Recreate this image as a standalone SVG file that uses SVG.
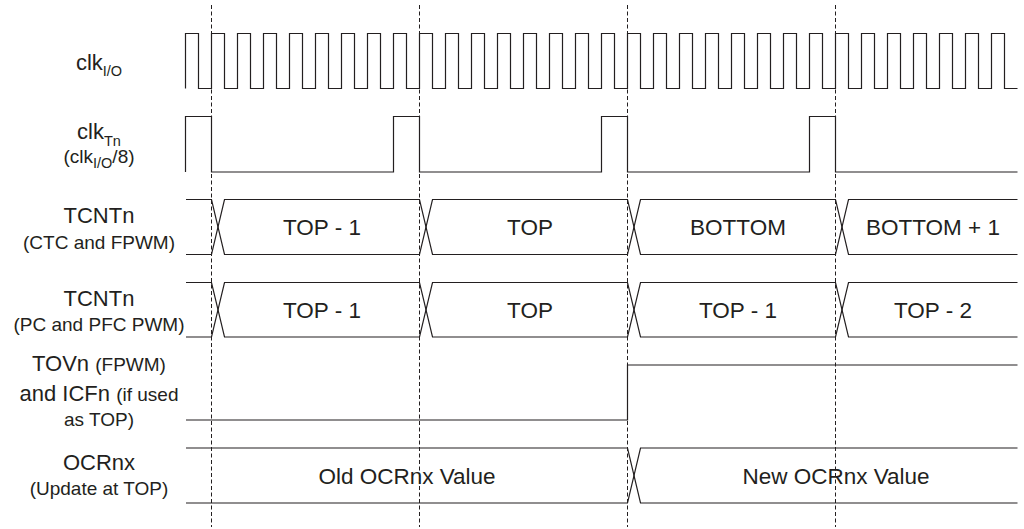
<svg xmlns="http://www.w3.org/2000/svg" width="1024" height="529" viewBox="0 0 1024 529">
<style>
.sig{fill:none;stroke:#231f20;stroke-width:1.2}
.grid{fill:none;stroke:#231f20;stroke-width:1;stroke-dasharray:4 2.5}
text{font-family:"Liberation Sans",Arial,sans-serif;fill:#231f20}
.lbl{font-size:22px;text-anchor:middle}
.val{font-size:22.5px;text-anchor:middle}
.sm{font-size:19px}
.sub{font-size:14.5px}
</style>
<rect width="1024" height="529" fill="#fff"/>
<g id="gridlines">
<line class="grid" x1="211.5" y1="5" x2="211.5" y2="527"/>
<line class="grid" x1="419.5" y1="5" x2="419.5" y2="527"/>
<line class="grid" x1="627.5" y1="5" x2="627.5" y2="527"/>
<line class="grid" x1="835.5" y1="5" x2="835.5" y2="527"/>
</g>
<g id="clkio">
<text class="lbl" x="99" y="70">clk<tspan class="sub" dy="6">I/O</tspan></text>
<path class="sig" d="M185.5,88.5
v-55h13v55h13 v-55h13v55h13 v-55h13v55h13 v-55h13v55h13 v-55h13v55h13 v-55h13v55h13 v-55h13v55h13 v-55h13v55h13
v-55h13v55h13 v-55h13v55h13 v-55h13v55h13 v-55h13v55h13 v-55h13v55h13 v-55h13v55h13 v-55h13v55h13 v-55h13v55h13
v-55h13v55h13 v-55h13v55h13 v-55h13v55h13 v-55h13v55h13 v-55h13v55h13 v-55h13v55h13 v-55h13v55h13 v-55h13v55h13
v-55h13v55h13 v-55h13v55h13 v-55h13v55h13 v-55h13v55h13 v-55h13v55h13 v-55h13v55h13 v-55h13v55h13 v-55h13v55h13"/>
</g>
<g id="clktn">
<text class="lbl" x="99" y="139">clk<tspan class="sub" dy="7">Tn</tspan></text>
<text class="lbl sm" x="99" y="163">(clk<tspan class="sub" font-size="13.5" dy="5">I/O</tspan><tspan dy="-5">/8)</tspan></text>
<path class="sig" d="M185.5,172 V116.5 H211.5 V172 H393.5 V116.5 H419.5 V172 H601.5 V116.5 H627.5 V172 H809.5 V116.5 H835.5 V172 H1017.5"/>
</g>
<g id="tcntn-ctc">
<text class="lbl" x="99" y="223">TCNTn</text>
<text class="lbl sm" x="99" y="249">(CTC and FPWM)</text>
<path class="sig" d="M186,199.5 H211.5 L224.5,254.5 H419.5 L432.5,199.5 H627.5 L640.5,254.5 H835.5 L848.5,199.5 H1017.5"/>
<path class="sig" d="M186,254.5 H211.5 L224.5,199.5 H419.5 L432.5,254.5 H627.5 L640.5,199.5 H835.5 L848.5,254.5 H1017.5"/>
<text class="val" x="322" y="235">TOP - 1</text>
<text class="val" x="530" y="235">TOP</text>
<text class="val" x="738" y="235">BOTTOM</text>
<text class="val" x="933" y="235">BOTTOM + 1</text>
</g>
<g id="tcntn-pc">
<text class="lbl" x="99" y="306">TCNTn</text>
<text class="lbl sm" x="99" y="331">(PC and PFC PWM)</text>
<path class="sig" d="M186,282.5 H211.5 L224.5,337 H419.5 L432.5,282.5 H627.5 L640.5,337 H835.5 L848.5,282.5 H1017.5"/>
<path class="sig" d="M186,337 H211.5 L224.5,282.5 H419.5 L432.5,337 H627.5 L640.5,282.5 H835.5 L848.5,337 H1017.5"/>
<text class="val" x="322" y="317.5">TOP - 1</text>
<text class="val" x="530" y="317.5">TOP</text>
<text class="val" x="738" y="317.5">TOP - 1</text>
<text class="val" x="933" y="317.5">TOP - 2</text>
</g>
<g id="tovn">
<text class="lbl" x="99" y="371">TOVn <tspan class="sm">(FPWM)</tspan></text>
<text class="lbl" x="99" y="401">and ICFn <tspan class="sm">(if used</tspan></text>
<text class="lbl sm" x="99" y="426">as TOP)</text>
<path class="sig" d="M186,420 H627.5 V365 H1017.5"/>
</g>
<g id="ocrnx">
<text class="lbl" x="99" y="470">OCRnx</text>
<text class="lbl sm" x="99" y="495">(Update at TOP)</text>
<path class="sig" d="M186,448 H627.5 L640.5,503 H1017.5"/>
<path class="sig" d="M186,503 H627.5 L640.5,448 H1017.5"/>
<text class="val" x="407" y="484">Old OCRnx Value</text>
<text class="val" x="836" y="484">New OCRnx Value</text>
</g>
</svg>
